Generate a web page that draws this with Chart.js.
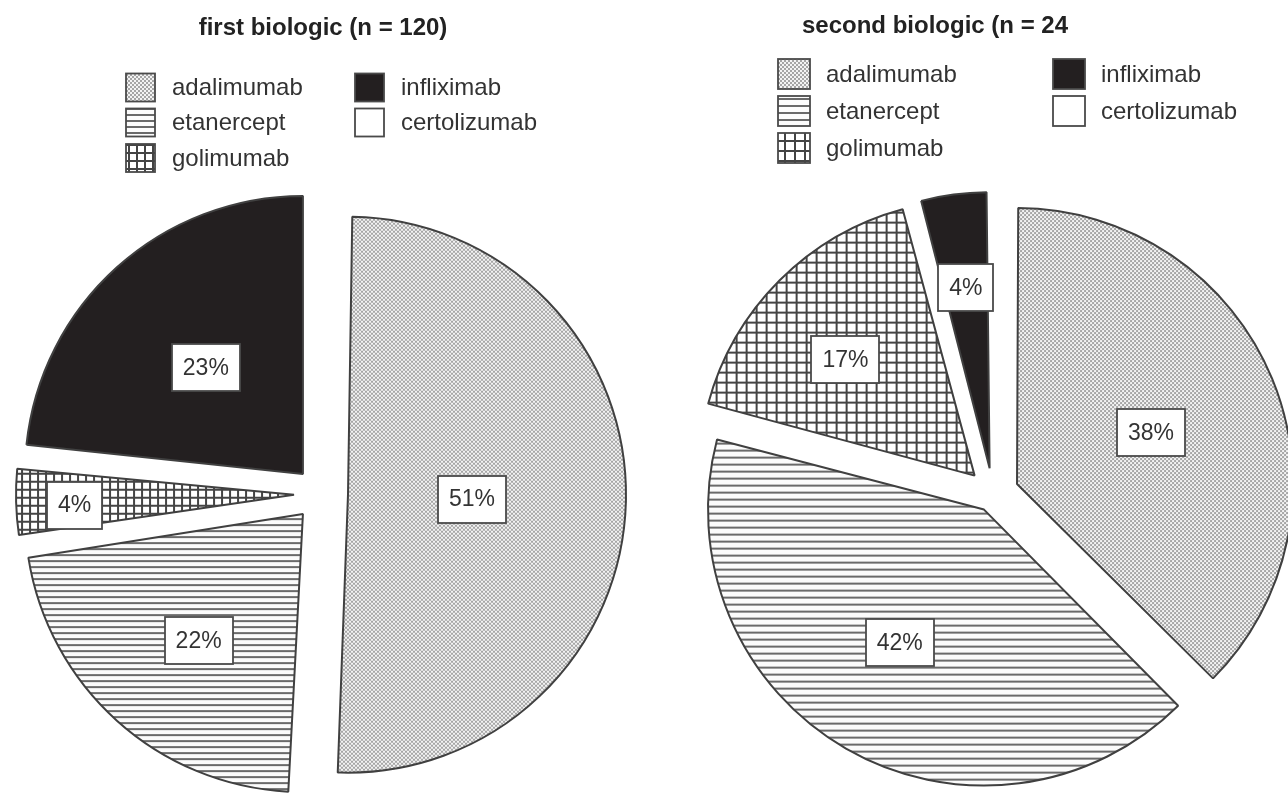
<!DOCTYPE html>
<html><head><meta charset="utf-8">
<script src="https://cdn.jsdelivr.net/npm/chart.js@4.4.1/dist/chart.umd.min.js"></script>
<style>
html,body{margin:0;padding:0;background:#fff;width:1288px;height:795px;overflow:hidden;}
canvas{position:absolute;top:0;}
#c1{left:0;} #c2{left:644px;}
</style></head><body>
<canvas id="c1" width="644" height="795"></canvas>
<canvas id="c2" width="644" height="795"></canvas>
<script>
// ---- data ----
const drugs = ['adalimumab', 'etanercept', 'golimumab', 'infliximab', 'certolizumab'];
const firstTitle = 'first biologic (n = 120)';
const firstCounts = [61, 26, 5, 28, 0];
const secondTitle = 'second biologic (n = 24';
const secondCounts = [9, 10, 4, 1, 0];

// ---- styles ----
const FONT = '"Liberation Sans", Arial, sans-serif';
const leftStyle = {
  padding: {left: 0, right: 2, top: 193, bottom: 0},
  radius: 278, shift: [27, 27, 27, 27, 0],
  pat: {line: 6, grid: 8},
  labelF: [0.446, 0.59, 0.79, 0.517, 0],
  labelA: [0.5, -2.5, -1.2, -0.5, 0],
  titleX: 323, titleY: 28,
  legX: [126, 355], legY: [87.5, 122.5, 158], sw: 29, sh: 28, textGap: 46
};
const rightStyle = {
  padding: {left: 54, right: 0, top: 193, bottom: 0},
  radius: 276, shift: [26, 18, 26, 26, 0],
  pat: {line: 7, grid: 10},
  labelF: [0.52, 0.57, 0.63, 0.66, 0],
  labelA: [1.5, 2.4, -3, 0, 0],
  titleX: 291, titleY: 26,
  legX: [134, 409], legY: [74, 111, 148], sw: 32, sh: 30, textGap: 48
};

function makePatterns(ctx, p) {
  const dots = document.createElement('canvas'); dots.width = 4; dots.height = 4;
  let x = dots.getContext('2d');
  x.fillStyle = '#f3f3f3'; x.fillRect(0, 0, 4, 4);
  x.fillStyle = '#a6a6a6'; x.fillRect(0, 0, 2, 2); x.fillRect(2, 2, 2, 2);
  const lines = document.createElement('canvas'); lines.width = 4; lines.height = p.line;
  x = lines.getContext('2d');
  x.fillStyle = '#fbfbfb'; x.fillRect(0, 0, 4, p.line);
  x.fillStyle = '#6a6a6a'; x.fillRect(0, 0, 4, 2);
  const grid = document.createElement('canvas'); grid.width = p.grid; grid.height = p.grid;
  x = grid.getContext('2d');
  x.fillStyle = '#ffffff'; x.fillRect(0, 0, p.grid, p.grid);
  x.fillStyle = '#444444'; x.fillRect(0, 0, p.grid, 2); x.fillRect(0, 0, 2, p.grid);
  return [ctx.createPattern(dots, 'repeat'), ctx.createPattern(lines, 'repeat'),
          ctx.createPattern(grid, 'repeat'), '#231f20', '#ffffff'];
}

const decor = {
  id: 'decor',
  afterDatasetUpdate(chart, args) {
    // keep every slice at the same outer radius (v4 enlarges some exploded arcs)
    const meta = chart.getDatasetMeta(args.index);
    meta.data.forEach(el => {
      const off = (el.options.offset || 0) / 4;
      const fix = 1 - Math.sin(Math.min(Math.PI, el.circumference || 0));
      el.outerRadius -= off * fix;
    });
  },
  afterDatasetsDraw(chart, args, opts) {
    const ctx = chart.ctx;
    const ds = chart.data.datasets[0];
    const meta = chart.getDatasetMeta(0);
    const total = ds.data.reduce((a, b) => a + b, 0);
    ctx.save();
    meta.data.forEach((el, i) => {
      const v = ds.data[i];
      if (!v) return;
      const a = (el.startAngle + el.endAngle) / 2;
      const t = (el.options.offset || 0) / 4;
      const R = opts.radius;
      const px = el.x + Math.cos(a) * t;
      const py = el.y + Math.sin(a) * t;
      const la = a + opts.labelA[i] * Math.PI / 180;
      const cx = px + Math.cos(la) * opts.labelF[i] * R;
      const cy = py + Math.sin(la) * opts.labelF[i] * R;
      const txt = Math.round(v / total * 100) + '%';
      ctx.font = '23px ' + FONT;
      const w = Math.round(ctx.measureText(txt).width + 22);
      const h = 47;
      const bx = Math.round(cx - w / 2), by = Math.round(cy - h / 2);
      ctx.fillStyle = '#ffffff';
      ctx.fillRect(bx, by, w, h);
      ctx.strokeStyle = '#4a4a4a'; ctx.lineWidth = 1.8;
      ctx.strokeRect(bx, by, w, h);
      ctx.fillStyle = '#333333';
      ctx.textAlign = 'center'; ctx.textBaseline = 'middle';
      ctx.fillText(txt, cx, cy + 1);
    });
    // title
    ctx.font = 'bold 24px ' + FONT;
    ctx.fillStyle = '#222222';
    ctx.textAlign = 'center'; ctx.textBaseline = 'middle';
    ctx.fillText(opts.title, opts.titleX, opts.titleY);
    // legend
    ctx.font = '24px ' + FONT;
    ctx.textAlign = 'left';
    chart.data.labels.forEach((lab, i) => {
      const col = i < 3 ? 0 : 1;
      const row = i < 3 ? i : i - 3;
      const x = opts.legX[col];
      const y = opts.legY[row];
      ctx.fillStyle = ds.backgroundColor[i];
      ctx.fillRect(x, y - opts.sh / 2, opts.sw, opts.sh);
      ctx.strokeStyle = '#4a4a4a'; ctx.lineWidth = 1.8;
      ctx.strokeRect(x, y - opts.sh / 2, opts.sw, opts.sh);
      ctx.fillStyle = '#333333';
      ctx.fillText(lab, x + opts.textGap, y + 1);
    });
    ctx.restore();
  }
};

function makeChart(id, title, counts, st) {
  const canvas = document.getElementById(id);
  const fills = makePatterns(canvas.getContext('2d'), st.pat);
  return new Chart(canvas, {
    type: 'pie',
    data: {
      labels: drugs,
      datasets: [{
        data: counts,
        backgroundColor: fills,
        borderColor: '#404040',
        borderWidth: 2,
        offset: st.shift.map(s => s * 4),
        hoverOffset: 0,
        radius: st.radius
      }]
    },
    options: {
      responsive: false,
      animation: false,
      events: [],
      layout: {padding: st.padding},
      plugins: {
        legend: {display: false},
        tooltip: {enabled: false},
        decor: Object.assign({title: title}, st)
      }
    },
    plugins: [decor]
  });
}

makeChart('c1', firstTitle, firstCounts, leftStyle);
makeChart('c2', secondTitle, secondCounts, rightStyle);
</script>
</body></html>
